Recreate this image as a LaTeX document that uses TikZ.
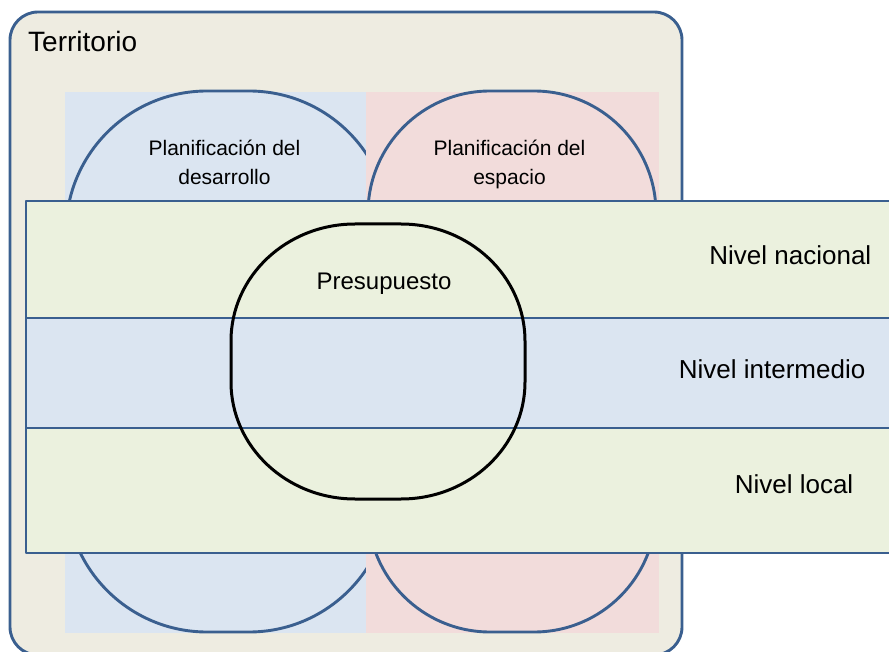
\documentclass[tikz,border=0pt]{standalone}
\usepackage{fontspec}
\setmainfont{Liberation Sans}
\definecolor{edge}{HTML}{3A5F8F}
\definecolor{beige}{HTML}{EEECE1}
\definecolor{bluefill}{HTML}{DBE5F1}
\definecolor{pinkfill}{HTML}{F2DCDB}
\definecolor{greenfill}{HTML}{EBF1DE}
% rounded box with elliptical corners: left, top, right, bottom, rx, ry
\newcommand{\rndbox}[6]{%
 (#1,{#2+#6}) .. controls (#1,{#2+0.4477*#6}) and ({#1+0.4477*#5},#2) .. ({#1+#5},#2)
 -- ({#3-#5},#2) .. controls ({#3-0.4477*#5},#2) and (#3,{#2+0.4477*#6}) .. (#3,{#2+#6})
 -- (#3,{#4-#6}) .. controls (#3,{#4-0.4477*#6}) and ({#3-0.4477*#5},#4) .. ({#3-#5},#4)
 -- ({#1+#5},#4) .. controls ({#1+0.4477*#5},#4) and (#1,{#4-0.4477*#6}) .. (#1,{#4-#6})
 -- cycle}
\begin{document}
\begin{tikzpicture}[x=1pt,y=-1pt,line join=round,
  outl/.style={draw=edge,line width=2.9pt},
  band/.style={outl,inner sep=0pt,outer sep=0pt,rectangle,minimum width=874pt},
  lbl/.style={inner sep=0pt,text=black},
  small/.style={lbl,font=\fontsize{21}{25}\selectfont},
  level/.style={lbl,font=\fontsize{26}{31}\selectfont}]
\useasboundingbox (0,0) rectangle (889,652);
\clip (0,0) rectangle (889,652);
% territory frame
\path[outl,fill=beige] \rndbox{10}{12}{682}{655}{28}{28};
% development planning
\fill[bluefill] (65,92) rectangle (366,633);
\path[outl,fill=bluefill] \rndbox{66}{91}{390}{632}{141}{141};
% spatial planning
\fill[pinkfill] (366,92) rectangle (659,633);
\path[outl,fill=pinkfill] \rndbox{368}{91}{656}{632}{122}{122};
% levels
\node[band,fill=greenfill,minimum height=117pt] (nac) at (463,259.5) {};
\node[band,fill=bluefill,minimum height=110pt] (int) at (463,373) {};
\node[band,fill=greenfill,minimum height=125pt] (loc) at (463,490.5) {};
% budget
\draw[black,line width=3pt] \rndbox{231}{224}{525}{499}{124}{117};
% texts
\node[lbl,anchor=base west,font=\fontsize{28}{33}\selectfont] (tterr) at (28,52) {Territorio};
\node[small,anchor=base] (tdev1) at (224.5,155.7) {Planificación del};
\node[small,anchor=base] (tdev2) at (224.5,184.3) {desarrollo};
\node[small,anchor=base] (tesp1) at (509.5,155.7) {Planificación del};
\node[small,anchor=base] (tesp2) at (509.5,184.3) {espacio};
\node[lbl,anchor=base,font=\fontsize{24}{29}\selectfont] (tpres) at (384,289.3) {Presupuesto};
\node[level,anchor=base east] (tnac) at (871.5,264.3) {Nivel nacional};
\node[level,anchor=base east] (tint) at (865.5,378.3) {Nivel intermedio};
\node[level,anchor=base east] (tloc) at (853.5,493.3) {Nivel local};
\end{tikzpicture}
\end{document}
